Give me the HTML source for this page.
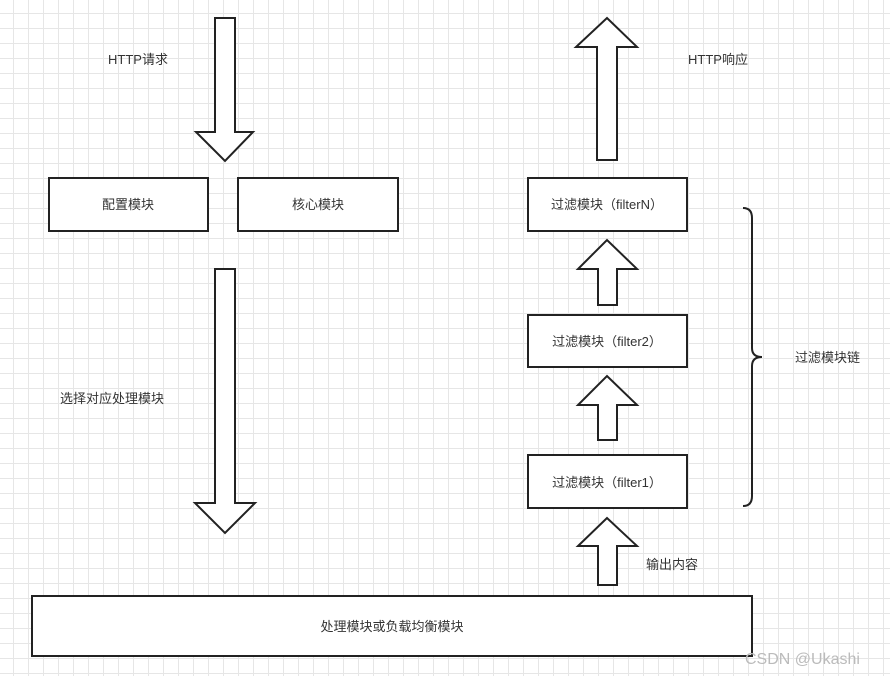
<!DOCTYPE html>
<html><head><meta charset="utf-8"><style>
body{margin:0;width:890px;height:676px;overflow:hidden;background:#fff;
background-image:linear-gradient(#e6e6e6 1px,transparent 1px),linear-gradient(90deg,#e6e6e6 1px,transparent 1px);
background-size:15px 15px;background-position:-2px -2px;font-family:"Liberation Sans","Noto Sans CJK SC",sans-serif;}
svg{position:absolute;left:0;top:0}
</style></head><body>
<svg width="890" height="676" xmlns="http://www.w3.org/2000/svg" font-family="Liberation Sans, Noto Sans CJK SC, sans-serif" font-size="13" fill="#333">
<g stroke="#222" stroke-width="2" fill="#fff">
<polygon points="215,18 235,18 235,132 253,132 225,161 196,132 215,132"/>
<rect x="49" y="178" width="159" height="53"/>
<rect x="238" y="178" width="160" height="53"/>
<polygon points="215,269 235,269 235,503 255,503 225,533 195,503 215,503"/>
<rect x="32" y="596" width="720" height="60"/>
<polygon points="597,160 617,160 617,47 637,47 607,18 576,47 597,47"/>
<rect x="528" y="178" width="159" height="53"/>
<polygon points="598,305 617,305 617,269 637,269 607,240 578,269 598,269"/>
<rect x="528" y="315" width="159" height="52"/>
<polygon points="598,440 617,440 617,405 637,405 607,376 578,405 598,405"/>
<rect x="528" y="455" width="159" height="53"/>
<polygon points="598,585 617,585 617,546 637,546 607,518 578,546 598,546"/>
</g>
<path d="M743,208 Q752,208 752,218 L752,348 Q752,357 762,357 Q752,357 752,366 L752,496 Q752,506 743,506" stroke="#222" stroke-width="2" fill="none"/>
<g fill="#333">
<text x="108" y="64">HTTP请求</text>
<text x="688" y="64">HTTP响应</text>
<text x="128" y="209" text-anchor="middle">配置模块</text>
<text x="318" y="209" text-anchor="middle">核心模块</text>
<text x="60" y="403">选择对应处理模块</text>
<text x="392" y="631" text-anchor="middle">处理模块或负载均衡模块</text>
<text x="607" y="209" text-anchor="middle">过滤模块（filterN）</text>
<text x="607" y="346" text-anchor="middle">过滤模块（filter2）</text>
<text x="607" y="487" text-anchor="middle">过滤模块（filter1）</text>
<text x="795" y="362">过滤模块链</text>
<text x="646" y="569">输出内容</text>
<text x="745" y="664" font-size="16" fill="#bbb">CSDN @Ukashi</text>
</g>
</svg>
</body></html>
